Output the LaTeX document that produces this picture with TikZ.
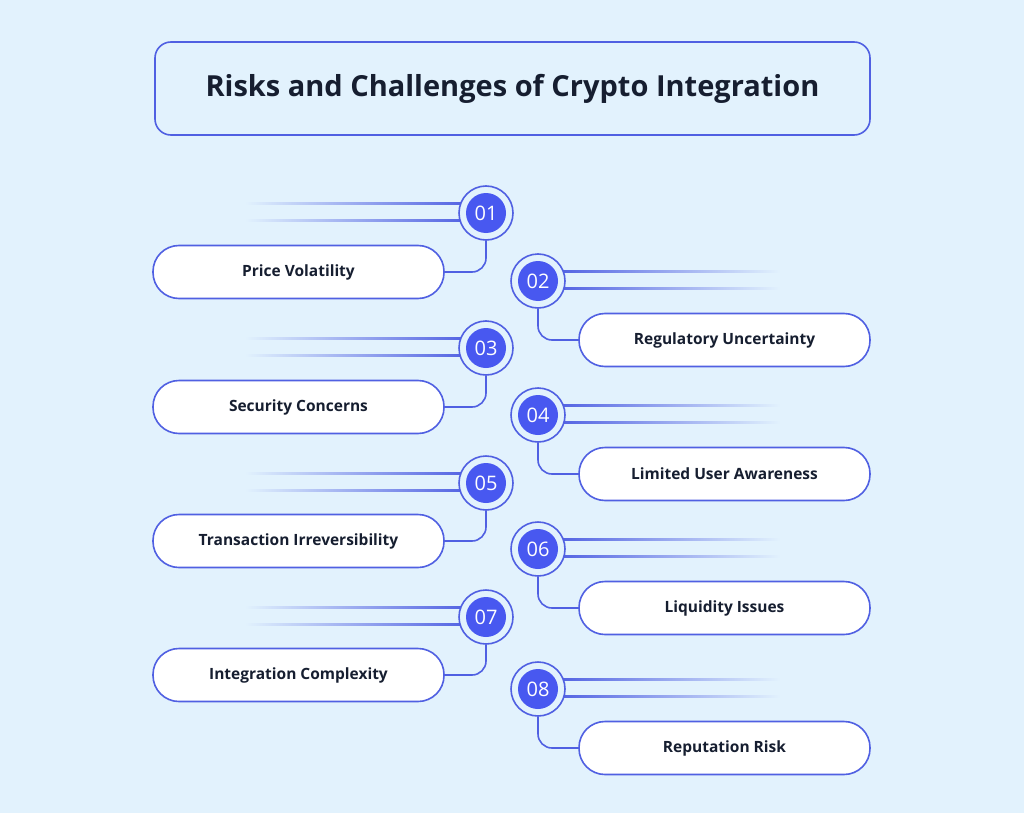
\documentclass[tikz,border=0pt]{standalone}
\usepackage{fontspec}
\setmainfont{Open Sans}
\definecolor{bg}{RGB}{226,242,253}
\definecolor{bl}{RGB}{80,96,226}
\definecolor{cf}{RGB}{72,88,240}
\definecolor{tx}{RGB}{22,30,48}
\begin{document}
\begin{tikzpicture}[x=1pt,y=-1pt,
  pill/.style={draw=bl,line width=1.6pt,fill=white,rounded corners=26pt,minimum width=291pt,minimum height=53pt,font=\bfseries\fontsize{15.5}{18}\selectfont,text=tx},
  ring/.style={circle,draw=bl,line width=1.6pt,fill=bg,minimum size=54pt},
  num/.style={circle,fill=cf,minimum size=40pt,text=white,font=\fontsize{20}{22}\selectfont},
  conn/.style={draw=bl,line width=1.6pt,rounded corners=14pt}]
\fill[bg] (0,0) rectangle (1024,813);
\useasboundingbox (0,0) rectangle (1024,813);
\node[draw=bl,line width=1.6pt,fill=bg,rounded corners=16pt,minimum width=715pt,minimum height=93pt,font=\bfseries\fontsize{29}{34}\selectfont,text=tx] (title) at (512.5,88.5) {Risks and Challenges of Crypto Integration};
\foreach \n/\cy/\py/\t in {01/213/272/Price Volatility,03/348/407/Security Concerns,05/483/541/Transaction Irreversibility,07/617/675/Integration Complexity}{
  \shade[left color=bg,right color=bl] (245,\cy-11) rectangle (470,\cy-9);
  \shade[left color=bg,right color=bl] (245,\cy+6) rectangle (470,\cy+8);
  \node[ring] (r\n) at (486,\cy) {};
  \node[num] (c\n) at (486,\cy) {\n};
  \node[pill] (p\n) at (298.5,\py) {\t};
  \draw[conn] (r\n.south) |- (p\n.east);
}
\foreach \n/\cy/\py/\t in {02/281/340/Regulatory Uncertainty,04/415/474/Limited User Awareness,06/549/608/Liquidity Issues,08/689/748/Reputation Risk}{
  \shade[left color=bl,right color=bg] (555,\cy-11) rectangle (780,\cy-9);
  \shade[left color=bl,right color=bg] (555,\cy+6) rectangle (780,\cy+8);
  \node[ring] (r\n) at (538,\cy) {};
  \node[num] (c\n) at (538,\cy) {\n};
  \node[pill] (p\n) at (724.5,\py) {\t};
  \draw[conn] (r\n.south) |- (p\n.west);
}
\end{tikzpicture}
\end{document}
